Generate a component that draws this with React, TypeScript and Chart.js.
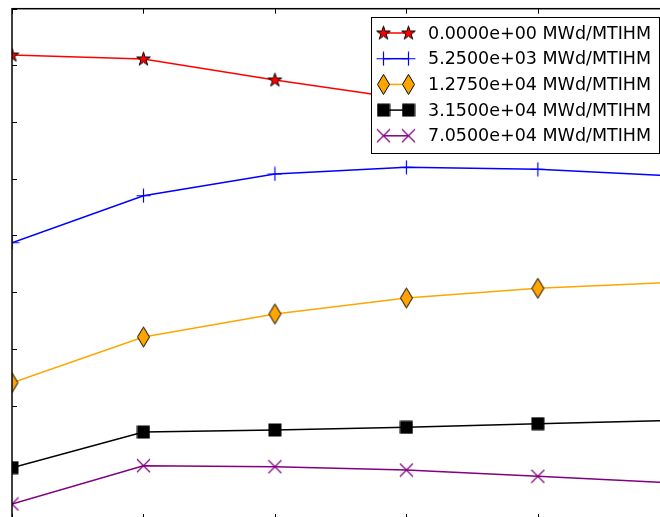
import React, { useEffect, useRef } from "react";
import { Chart, registerables } from "chart.js";

Chart.register(...registerables);

const xValues = [0, 1, 2, 3, 4, 5];
const seriesLabels = [
  "0.0000e+00 MWd/MTIHM",
  "5.2500e+03 MWd/MTIHM",
  "1.2750e+04 MWd/MTIHM",
  "3.1500e+04 MWd/MTIHM",
  "7.0500e+04 MWd/MTIHM",
];
const redValues = [8.183, 8.113, 7.743, 7.407, 7.178, 7.002];
const blueValues = [4.873, 5.702, 6.085, 6.203, 6.168, 6.053];
const orangeValues = [2.404, 3.21, 3.616, 3.898, 4.069, 4.173];
const blackValues = [0.905, 1.534, 1.57, 1.617, 1.681, 1.737];
const purpleValues = [0.265, 0.94, 0.922, 0.864, 0.753, 0.64];
const xTicks = [0, 1, 2, 3, 4, 5];
const yTicks = [0, 1, 2, 3, 4, 5, 6, 7, 8, 9];

function makeCanvas(w: number, h: number) {
  const c = document.createElement("canvas");
  c.width = w;
  c.height = h;
  return c;
}

function starMarker() {
  const c = makeCanvas(17, 17);
  const g = c.getContext("2d")!;
  const cx = 8.5, cy = 8.8, R = 7.2, r = R * 0.382;
  g.beginPath();
  for (let i = 0; i < 10; i++) {
    const rad = i % 2 === 0 ? R : r;
    const a = -Math.PI / 2 + (i * Math.PI) / 5;
    const px = cx + rad * Math.cos(a);
    const py = cy + rad * Math.sin(a);
    if (i === 0) g.moveTo(px, py);
    else g.lineTo(px, py);
  }
  g.closePath();
  g.fillStyle = "#ff0000";
  g.fill();
  g.strokeStyle = "#000";
  g.lineWidth = 1;
  g.stroke();
  return c;
}

function plusMarker() {
  const c = makeCanvas(15, 15);
  const g = c.getContext("2d")!;
  g.strokeStyle = "#0000ff";
  g.lineWidth = 1.2;
  g.beginPath();
  g.moveTo(7.5, 0.5);
  g.lineTo(7.5, 14.5);
  g.moveTo(0.5, 7.5);
  g.lineTo(14.5, 7.5);
  g.stroke();
  return c;
}

function diamondMarker() {
  const c = makeCanvas(15, 23);
  const g = c.getContext("2d")!;
  g.beginPath();
  g.moveTo(7.5, 1.5);
  g.lineTo(13.5, 11.5);
  g.lineTo(7.5, 21.5);
  g.lineTo(1.5, 11.5);
  g.closePath();
  g.fillStyle = "#ffa500";
  g.fill();
  g.strokeStyle = "#000";
  g.lineWidth = 1;
  g.stroke();
  return c;
}

function squareMarker() {
  const c = makeCanvas(14, 14);
  const g = c.getContext("2d")!;
  g.fillStyle = "#000";
  g.fillRect(0.5, 0.5, 13, 13);
  return c;
}

function xMarker() {
  const c = makeCanvas(15, 15);
  const g = c.getContext("2d")!;
  g.strokeStyle = "#800080";
  g.lineWidth = 1.2;
  g.beginPath();
  g.moveTo(1, 1);
  g.lineTo(14, 14);
  g.moveTo(14, 1);
  g.lineTo(1, 14);
  g.stroke();
  return c;
}

export default function App() {
  const ref = useRef<HTMLCanvasElement | null>(null);

  useEffect(() => {
    if (!ref.current) return;
    const markers = [starMarker(), plusMarker(), diamondMarker(), squareMarker(), xMarker()];
    const colors = ["#ff0000", "#0000ff", "#ffa500", "#000000", "#800080"];
    const values = [redValues, blueValues, orangeValues, blackValues, purpleValues];

    const framePlugin = {
      id: "frame",
      afterDraw(chart: any) {
        const { ctx, chartArea: a, scales } = chart;
        ctx.save();
        ctx.strokeStyle = "#000";
        ctx.lineWidth = 1;
        ctx.beginPath();
        for (const v of xTicks) {
          const px = Math.round(scales.x.getPixelForValue(v)) + 0.5;
          ctx.moveTo(px, a.top);
          ctx.lineTo(px, a.top + 5);
          ctx.moveTo(px, a.bottom);
          ctx.lineTo(px, a.bottom - 5);
        }
        for (const v of yTicks) {
          const py = Math.round(scales.y.getPixelForValue(v)) + 0.5;
          ctx.moveTo(a.left, py);
          ctx.lineTo(a.left + 5, py);
          ctx.moveTo(a.right, py);
          ctx.lineTo(a.right - 5, py);
        }
        ctx.stroke();
        ctx.lineWidth = 1.5;
        ctx.strokeRect(a.left, a.top, a.right - a.left, a.bottom - a.top);

        // legend
        const bx = 371.5, by = 17.5, bw = 288, bh = 136;
        ctx.fillStyle = "#fff";
        ctx.fillRect(bx, by, bw, bh);
        ctx.lineWidth = 1;
        ctx.strokeStyle = "#000";
        ctx.strokeRect(bx, by, bw, bh);
        ctx.font = '17.5px "DejaVu Sans"';
        ctx.textBaseline = "middle";
        ctx.textAlign = "left";
        for (let i = 0; i < seriesLabels.length; i++) {
          const cy = 33 + i * 25.7;
          ctx.strokeStyle = colors[i];
          ctx.lineWidth = 1.5;
          ctx.beginPath();
          ctx.moveTo(383.5, cy);
          ctx.lineTo(408.5, cy);
          ctx.stroke();
          const m = markers[i];
          ctx.drawImage(m, 383.5 - m.width / 2, cy - m.height / 2);
          ctx.drawImage(m, 408.5 - m.width / 2, cy - m.height / 2);
          ctx.fillStyle = "#000";
          ctx.fillText(seriesLabels[i], 428, cy + 1);
        }
        ctx.restore();
      },
    };

    const chart = new Chart(ref.current, {
      type: "line",
      data: {
        datasets: values.map((vals, i) => ({
          label: seriesLabels[i],
          data: xValues.map((x, j) => ({ x, y: vals[j] })),
          borderColor: colors[i],
          backgroundColor: colors[i],
          borderWidth: 1.5,
          pointStyle: markers[i] as any,
          pointRadius: 7,
          pointHoverRadius: 7,
          tension: 0,
          fill: false,
          clip: 0,
          order: 4 - i,
        })),
      },
      options: {
        animation: false,
        responsive: false,
        events: [],
        layout: { padding: { left: 12, top: 8.7, right: 30.7, bottom: 21 } },
        plugins: { legend: { display: false }, tooltip: { enabled: false } },
        scales: {
          x: { type: "linear", min: 0, max: 5, display: false },
          y: { type: "linear", min: 0, max: 9, display: false },
        },
      },
      plugins: [framePlugin],
    } as any);
    return () => chart.destroy();
  }, []);

  return (
    <div
      style={{
        position: "fixed",
        left: 0,
        top: 0,
        width: 660,
        height: 517,
        overflow: "hidden",
        background: "#fff",
      }}
    >
      <canvas ref={ref} width={700} height={540} style={{ display: "block" }} />
    </div>
  );
}
